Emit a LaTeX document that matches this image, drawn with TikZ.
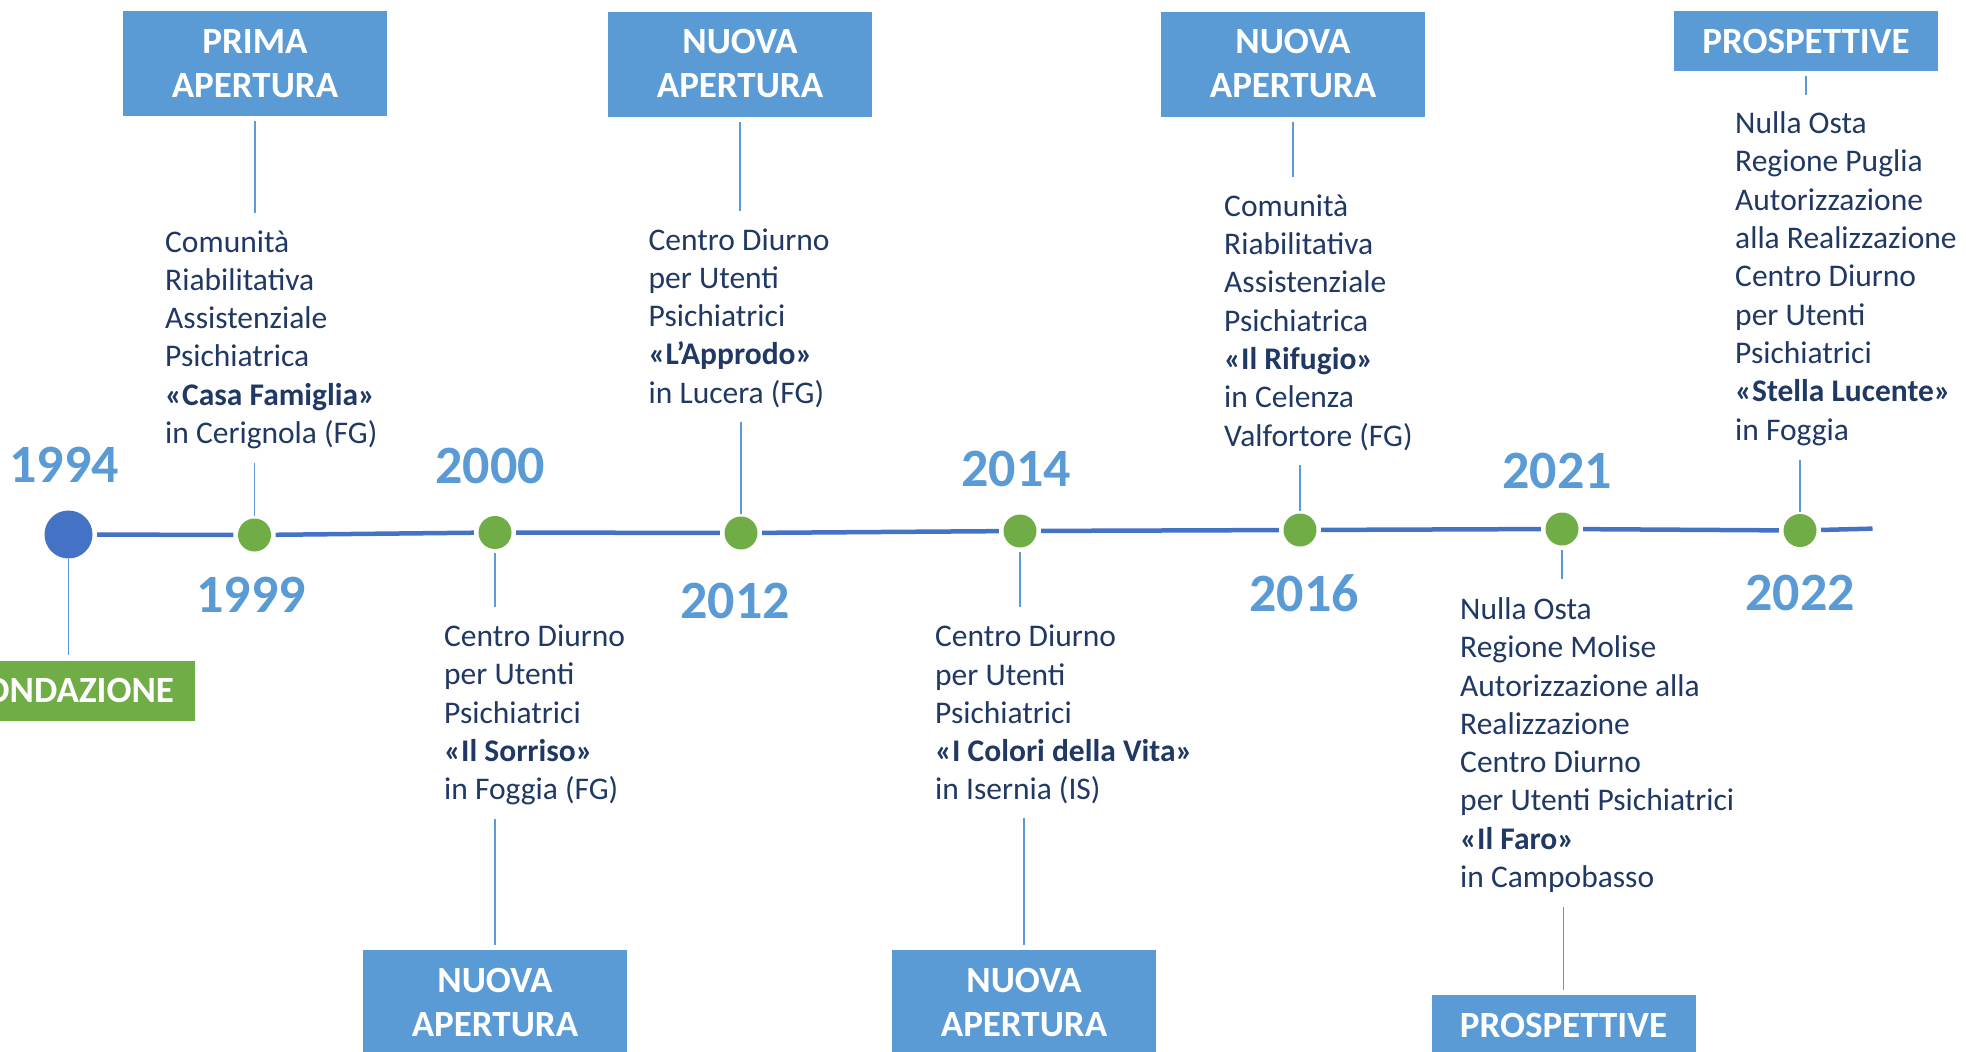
\documentclass[tikz,border=0pt]{standalone}
\usepackage{fontspec}
\setmainfont{Carlito}
\usetikzlibrary{positioning}
\definecolor{boxblue}{HTML}{5B9BD5}
\definecolor{lineblue}{HTML}{4472C4}
\definecolor{dotgreen}{HTML}{70AD47}
\definecolor{navy}{HTML}{203864}
\tikzset{
  evbox/.style={fill=boxblue, text=white, font=\fontsize{37}{44}\selectfont\bfseries, align=center, inner sep=0pt, minimum width=264, minimum height=105},
  evboxs/.style={evbox, minimum height=60},
  fondbox/.style={evboxs, fill=dotgreen, minimum width=248},
  desc/.style={align=left, inner sep=0pt, anchor=base west, text=navy, font=\fontsize{31.5}{38.3}\selectfont},
  year/.style={text=boxblue, inner sep=0pt, font=\fontsize{54}{60}\selectfont\bfseries},
  gdot/.style={circle, fill=dotgreen, minimum size=33, inner sep=0pt},
  bdot/.style={gdot, fill=lineblue, minimum size=48},
  tline/.style={draw=lineblue, line width=4.5, shorten <=4.5, shorten >=4.5},
  conn/.style={draw=boxblue, line width=1.5},
}
\begin{document}
\begin{tikzpicture}[x=1pt,y=-1pt]
\useasboundingbox (0,0) rectangle (1966,1052);
\node[bdot] (d1994) at (68.5,534.5) {};
\node[gdot] (d1999) at (254.5,535) {};
\node[gdot] (d2000) at (495,532.5) {};
\node[gdot] (d2012) at (741,533) {};
\node[gdot] (d2014) at (1020,531) {};
\node[gdot] (d2016) at (1300,530) {};
\node[gdot] (d2021) at (1562,529) {};
\node[gdot] (d2022) at (1800,530.5) {};
\coordinate (tend) at (1877,528.5);

\node[year] (y1994) at (64,465) {1994};
\node[year] (y1999) at (251,595) {1999};
\node[year] (y2000) at (490,466) {2000};
\node[year] (y2012) at (735,601) {2012};
\node[year] (y2014) at (1016,468.5) {2014};
\node[year] (y2016) at (1304,593) {2016};
\node[year] (y2021) at (1557,471) {2021};
\node[year] (y2022) at (1800,593) {2022};

\node[fondbox] (b1994) at (71,690.5) {FONDAZIONE};
\node[evbox] (b1999) at (255,63.5) {PRIMA\\APERTURA};
\node[evbox] (b2000) at (495,1002.5) {NUOVA\\APERTURA};
\node[evbox] (b2012) at (740,64) {NUOVA\\APERTURA};
\node[evbox] (b2014) at (1024,1002.5) {NUOVA\\APERTURA};
\node[evbox] (b2016) at (1293,64) {NUOVA\\APERTURA};
\node[evboxs] (b2021) at (1563.5,1025) {PROSPETTIVE};
\node[evboxs] (b2022) at (1806,41) {PROSPETTIVE};

% texts: placed by the baseline of their last line
\node[desc] (t1999) at (165,443.5) {Comunità\\Riabilitativa\\Assistenziale\\Psichiatrica\\\textbf{«Casa Famiglia»}\\in Cerignola (FG)};
\node[desc] (t2000) at (444,799.8) {Centro Diurno\\per Utenti\\Psichiatrici\\\textbf{«Il Sorriso»}\\in Foggia (FG)};
\node[desc] (t2012) at (648.5,403.2) {Centro Diurno\\per Utenti\\Psichiatrici\\\textbf{«L’Approdo»}\\in Lucera (FG)};
\node[desc] (t2014) at (935,799.9) {Centro Diurno\\per Utenti\\Psichiatrici\\\textbf{«I Colori della Vita»}\\in Isernia (IS)};
\node[desc] (t2016) at (1224,446) {Comunità\\Riabilitativa\\Assistenziale\\Psichiatrica\\\textbf{«Il Rifugio»}\\in Celenza\\Valfortore (FG)};
\node[desc] (t2021) at (1460,887.5) {Nulla Osta\\Regione Molise\\Autorizzazione alla\\Realizzazione\\Centro Diurno\\per Utenti Psichiatrici\\\textbf{«Il Faro»}\\in Campobasso};
\node[desc] (t2022) at (1735,440) {Nulla Osta\\Regione Puglia\\Autorizzazione\\alla Realizzazione\\Centro Diurno\\per Utenti\\Psichiatrici\\\textbf{«Stella Lucente»}\\in Foggia};

% timeline
\draw[tline] (d1994) edge (d1999) (d1999) edge (d2000) (d2000) edge (d2012) (d2012) edge (d2014)
  (d2014) edge (d2016) (d2016) edge (d2021) (d2021) edge (d2022) (d2022) edge (tend);

% connectors above the line
\draw[conn, shorten <=5, shorten >=17] (b1999.south) -- (b1999.south |- t1999.north);
\draw[conn, shorten <=14, shorten >=2] (t1999.south -| d1999) -- (d1999);
\draw[conn, shorten <=5, shorten >=17] (b2012.south) -- (b2012.south |- t2012.north);
\draw[conn, shorten <=14, shorten >=2] (t2012.south -| d2012) -- (d2012);
\draw[conn, shorten <=5, shorten >=17] (b2016.south) -- (b2016.south |- t2016.north);
\draw[conn, shorten <=14, shorten >=2] (t2016.south -| d2016) -- (d2016);
\draw[conn, shorten <=5, shorten >=17] (b2022.south) -- (b2022.south |- t2022.north);
\draw[conn, shorten <=14, shorten >=2] (t2022.south -| d2022) -- (d2022);
% connectors below the line
\draw[conn, shorten >=5] (d1994) -- (b1994.north -| d1994);
\draw[conn, shorten <=4, shorten >=18] (d2000) -- (d2000 |- t2000.north);
\draw[conn, shorten <=14, shorten >=5] (t2000.south -| b2000) -- (b2000);
\draw[conn, shorten <=4, shorten >=18] (d2014) -- (d2014 |- t2014.north);
\draw[conn, shorten <=14, shorten >=5] (t2014.south -| b2014) -- (b2014);
\draw[conn, shorten <=4, shorten >=18] (d2021) -- (d2021 |- t2021.north);
\draw[conn, shorten <=14, shorten >=5] (t2021.south -| b2021) -- (b2021);
\end{tikzpicture}
\end{document}
